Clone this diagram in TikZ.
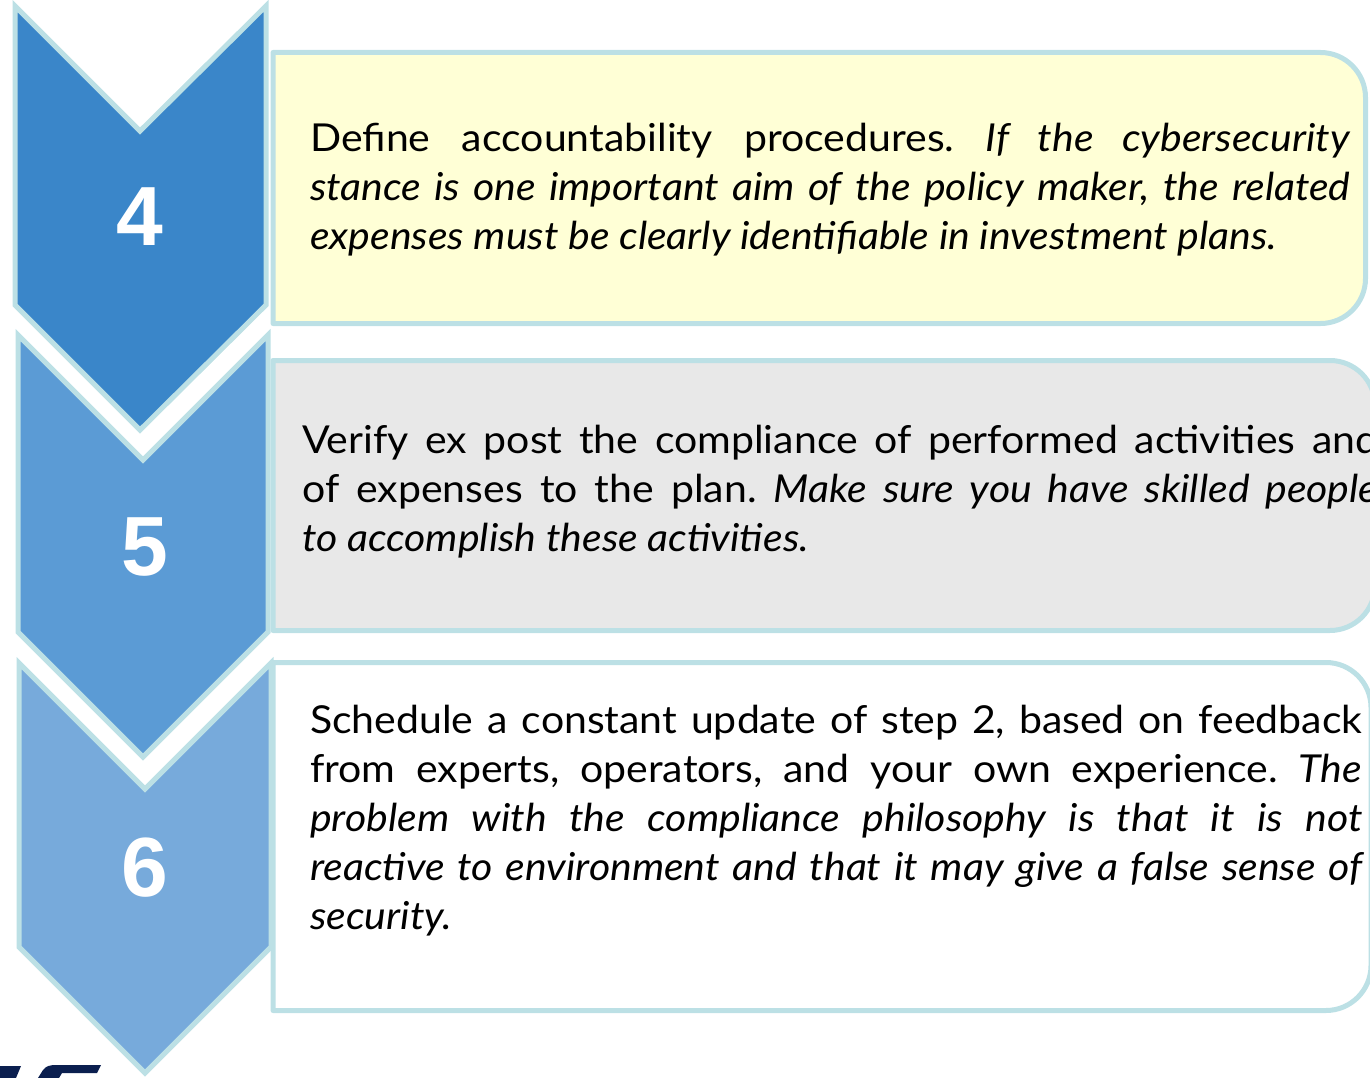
\documentclass[tikz,border=0pt]{standalone}
\usepackage{fontspec}
\setmainfont{Lato}[FakeStretch=1.065]
\newfontfamily\numfont{Liberation Sans}
\usetikzlibrary{shadows}
\definecolor{bord}{HTML}{BCE0E5}
\definecolor{chevA}{HTML}{3A86C9}
\definecolor{chevB}{HTML}{5B9BD5}
\definecolor{chevC}{HTML}{77AADB}
\definecolor{boxA}{HTML}{FFFFD6}
\definecolor{boxB}{HTML}{E8E8E8}
\definecolor{navy}{HTML}{0B1F4F}
\frenchspacing
\begin{document}
\begin{tikzpicture}[x=1pt,y=-1pt,
  chev/.style={draw=bord, line width=5pt, line join=miter,
    drop shadow={opacity=0.25, shadow xshift=0pt, shadow yshift=-3pt}},
  stepbox/.style={draw=bord, line width=5pt, line join=round},
  num/.style={font=\numfont\bfseries\fontsize{84}{84}\selectfont, text=white, inner sep=0, anchor=base},
  para/.style={inner sep=0, anchor=base west, font=\fontsize{38.5}{49}\selectfont}]
\useasboundingbox (0,0) rectangle (1370,1078);
\clip (0,0) rectangle (1370,1078);
% boxes
\draw[stepbox, fill=boxA] (273,323.5) -- (273,52.5) -- (1320.5,52.5)
  .. controls (1345.3,52.5) and (1365.5,72.7) .. (1365.5,97.5) -- (1365.5,278.5)
  .. controls (1365.5,303.3) and (1345.3,323.5) .. (1320.5,323.5) -- cycle;
\draw[stepbox, fill=boxB] (273,630.5) -- (273,360.5) -- (1330,360.5)
  .. controls (1354.8,360.5) and (1375,380.7) .. (1375,405.5) -- (1375,585.5)
  .. controls (1375,610.3) and (1354.8,630.5) .. (1330,630.5) -- cycle;
\draw[stepbox, fill=white] (273,1010.5) -- (273,662.5) -- (1326,662.5)
  .. controls (1350.8,662.5) and (1371,682.7) .. (1371,707.5) -- (1371,965.5)
  .. controls (1371,990.3) and (1350.8,1010.5) .. (1326,1010.5) -- cycle;
% logo fragment
\fill[navy] (0,1066) -- (21,1066) -- (16,1078) -- (0,1078) -- cycle;
\fill[navy] (38,1078) -- (43,1070) .. controls (46,1066) and (50,1065) .. (56,1065)
  -- (101,1065) -- (97,1073) -- (62,1073) -- (59,1078) -- cycle;
% chevrons
\draw[chev, fill=chevC] (19,663) -- (145,789) -- (271,663) -- (271,947) -- (145,1073) -- (19,947) -- cycle;
\draw[chev, fill=chevB] (18,335) -- (143,460) -- (268,335) -- (268,632) -- (143,757) -- (18,632) -- cycle;
\draw[chev, fill=chevA] (15,6) -- (140,131) -- (266,6) -- (266,305) -- (140,430) -- (15,305) -- cycle;
% numbers
\node[num] (n4) at (140,245) {4};
\node[num] (n5) at (145,575) {5};
\node[num] (n6) at (145,896) {6};
% texts
\node[para] (t1) at (310,152) {\vtop{\hsize=1040pt
  \hbox to 1040pt{Define accountability procedures. \textit{If the cybersecurity}}
  \hbox to 1040pt{\itshape stance is one important aim of the policy maker, the related}
  \hbox{\itshape expenses must be clearly identifiable in investment plans.}}};
\node[para] (t2) at (302,453) {\vtop{\hsize=1076pt
  \hbox to 1076pt{Verify ex post the compliance of performed activities and}
  \hbox to 1076pt{of expenses to the plan. \textit{Make sure you have skilled people}}
  \hbox{\itshape to accomplish these activities.}}};
\node[para] (t3) at (310,733) {\vtop{\hsize=1052pt
  \hbox to 1052pt{Schedule a constant update of step 2, based on feedback}
  \hbox to 1052pt{from experts, operators, and your own experience. \textit{The}}
  \hbox to 1052pt{\itshape problem with the compliance philosophy is that it is not}
  \hbox to 1052pt{\itshape reactive to environment and that it may give a false sense of}
  \hbox{\itshape security.}}};
\end{tikzpicture}
\end{document}
